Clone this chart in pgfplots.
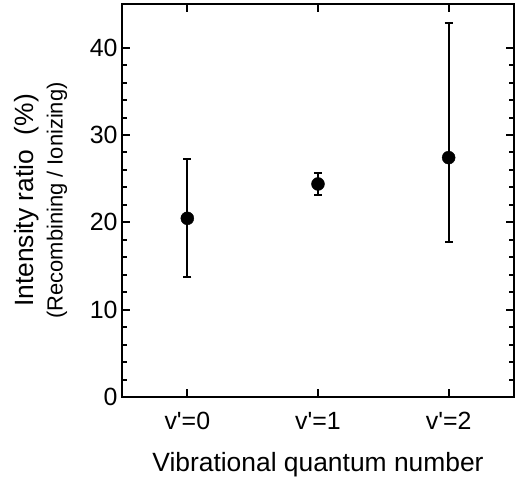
\documentclass[border=0pt]{standalone}
\usepackage{fontspec}
\setmainfont{Liberation Sans}
\usepackage{pgfplots}
\pgfplotsset{compat=1.18}
\begin{document}
\begin{tikzpicture}
\begin{axis}[
  scale only axis,
  width=392bp, height=393bp,
  xmin=-0.5, xmax=2.5,
  ymin=0, ymax=45,
  xtick={0,1,2},
  xticklabels={v\textquotesingle=0,v\textquotesingle=1,v\textquotesingle=2},
  ytick={0,10,20,30,40},
  minor y tick num=4,
  tick align=inside,
  major tick length=8bp,
  minor tick length=5bp,
  every tick/.style={line width=2bp, black},
  axis line style={line width=2bp},
  /pgf/number format/assume math mode=true,
  tick label style={font=\fontsize{25}{30}\selectfont},
  xticklabel style={yshift=-12bp},
  yticklabel style={xshift=-1bp},
  xlabel={Vibrational quantum number},
  xlabel style={font=\fontsize{26.5}{32}\selectfont, at={(axis description cs:0.5,0)}, anchor=center, yshift=-68bp},
  ylabel={{\fontsize{26.5}{26}\selectfont Intensity ratio~~(\%)}\\[3bp]{\fontsize{22}{26}\selectfont (Recombining / Ionizing)}},
  ylabel style={align=center, font=\fontsize{22}{26}\selectfont, at={(axis description cs:-0.207,0.5)}, anchor=center},
]
\addplot[black, only marks, mark=*, mark size=6.5bp,
  error bars/.cd, y dir=both, y explicit,
  error bar style={line width=2bp},
  error mark options={rotate=90, mark size=4bp, line width=2bp}]
  table[x=x, y=y, y error plus=ep, y error minus=em] {
x y ep em
0 20.46 6.76 6.70
1 24.39 1.21 1.26
2 27.41 15.41 9.67
};
\end{axis}
\path[use as bounding box] (-122bp,-88bp) rectangle (394bp,397bp);
\end{tikzpicture}
\end{document}
